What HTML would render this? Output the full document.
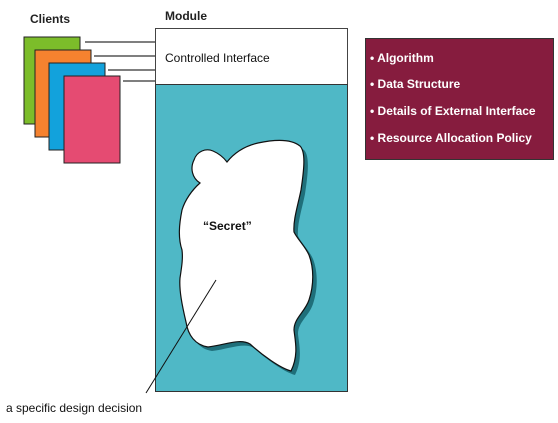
<!DOCTYPE html>
<html><head><style>
body{margin:0;width:558px;height:418px;background:#fff;overflow:hidden;font-family:"Liberation Sans",Arial,sans-serif}
</style></head><body>
<svg width="558" height="418" xmlns="http://www.w3.org/2000/svg" font-family="Liberation Sans, Arial, sans-serif">
<defs>
<path id="blob" d="M200,183 C192,178 190,168 194,160 C197,151 206,148 213,151 C220,154 224,158 227,162 C235,152 245,146 258,143 C272,140 290,138 300,146 C306,152 304,170 301,190 C298,205 293,220 294,232 C298,240 305,246 309,255 C314,268 314,285 309,300 C305,312 294,318 294,330 C295,340 299,355 291,371 C280,368 262,355 250,344 C240,338 225,345 208,347 C195,345 188,335 186,322 C182,305 179,290 180,278 C182,265 183,258 182,250 C178,238 179,225 182,210 C185,200 192,190 200,183 Z"/>
</defs>
<text x="30" y="23" font-size="12" font-weight="bold" fill="#222">Clients</text>
<text x="165" y="20" font-size="12" font-weight="bold" fill="#222">Module</text>
<rect x="24" y="37" width="56" height="87" fill="#7cbd2a" stroke="#222" stroke-width="1"/>
<rect x="35" y="50" width="56" height="87" fill="#f5822f" stroke="#222" stroke-width="1"/>
<rect x="49" y="63" width="56" height="87" fill="#12a2dc" stroke="#222" stroke-width="1"/>
<rect x="64" y="76" width="56" height="87" fill="#e54b72" stroke="#222" stroke-width="1"/>
<g stroke="#333" stroke-width="1.3">
<line x1="85" y1="42" x2="160" y2="42"/>
<line x1="94" y1="56" x2="158" y2="56"/>
<line x1="108" y1="70" x2="158" y2="70"/>
<line x1="123" y1="81" x2="163" y2="81"/>
</g>
<rect x="155.5" y="28.5" width="192" height="56" fill="#fff" stroke="#444"/>
<rect x="155.5" y="84.5" width="192" height="307" fill="#4fb8c6" stroke="#333"/>
<text x="165" y="62" font-size="12" fill="#111">Controlled Interface</text>
<use href="#blob" fill="#1f6f7a" transform="translate(4,4)"/>
<use href="#blob" fill="#fff" stroke="#111" stroke-width="1.2"/>
<text x="203" y="230" font-size="12" font-weight="bold" fill="#111">“Secret”</text>
<line x1="216" y1="280" x2="146" y2="393" stroke="#111" stroke-width="1"/>
<text x="6" y="412" font-size="12" fill="#111">a specific design decision</text>
<rect x="365.5" y="38.5" width="188" height="121" fill="#861c3e" stroke="#333"/>
<g font-size="12" font-weight="bold" fill="#fff">
<text x="370" y="62">• Algorithm</text>
<text x="370" y="88">• Data Structure</text>
<text x="370" y="115">• Details of External Interface</text>
<text x="370" y="142">• Resource Allocation Policy</text>
</g>
</svg>
</body></html>
